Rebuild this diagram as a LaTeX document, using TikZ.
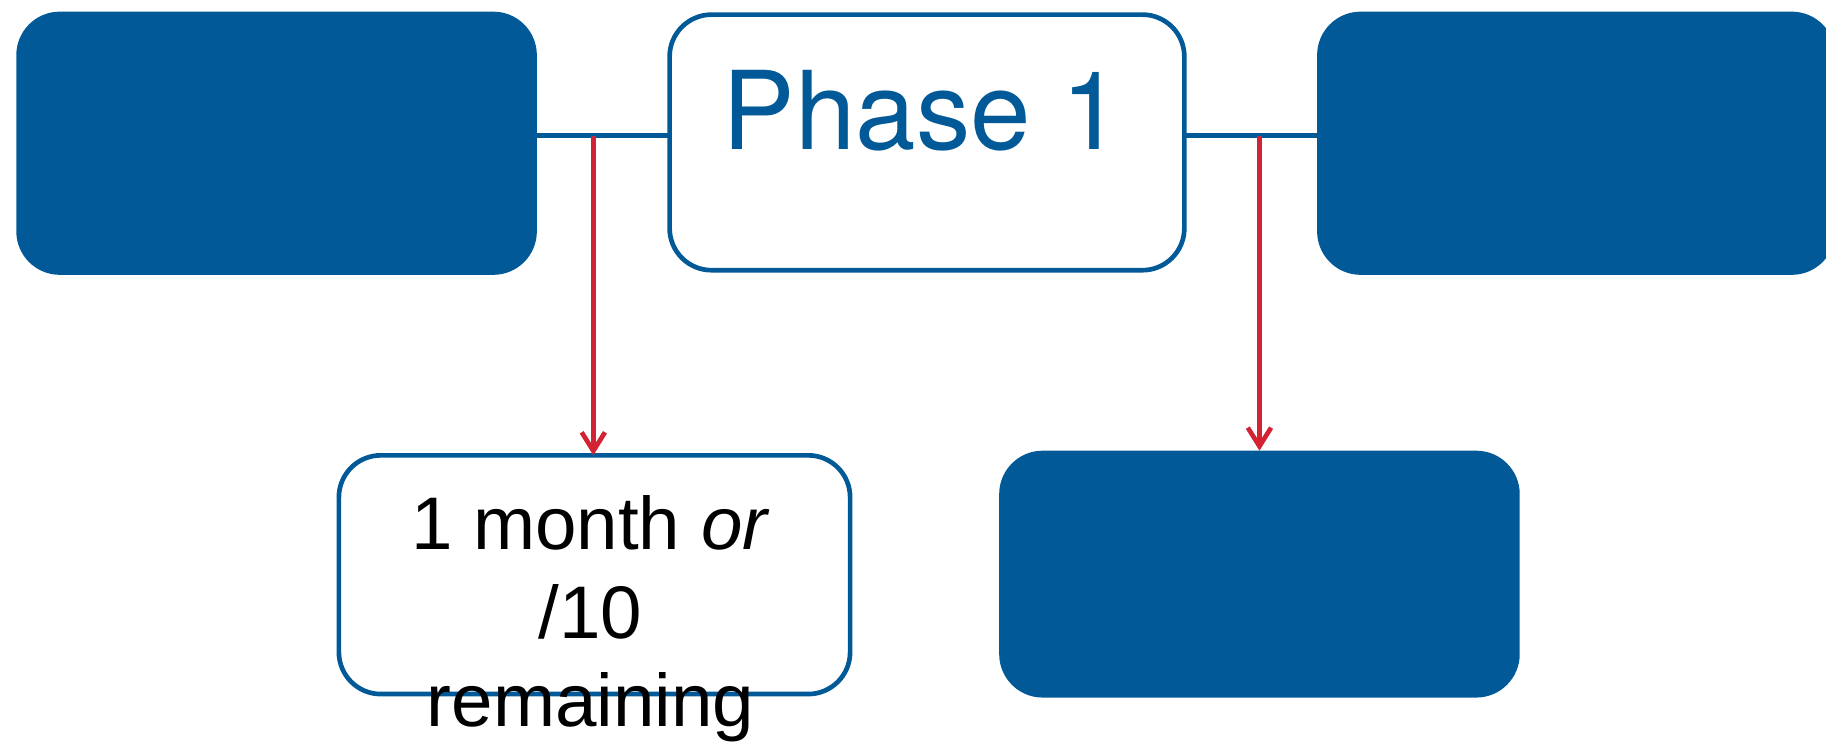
\documentclass[tikz,border=0pt]{standalone}
\usepackage{fontspec}
\setmainfont{Liberation Sans}
\newfontfamily\heros{TeX Gyre Heros}
\usetikzlibrary{arrows.meta}

\definecolor{phaseblue}{RGB}{1,90,151}
\definecolor{flowred}{RGB}{211,34,51}

\tikzset{every picture/.style={line width=3pt}}
\tikzset{
  solidbox/.style={rectangle, rounded corners=28pt, fill=phaseblue, draw=none, inner sep=0pt, outer sep=0pt},
  outlinebox/.style={rectangle, rounded corners=27pt, draw=phaseblue, fill=white, inner sep=0pt, outer sep=0pt},
  link/.style={draw=phaseblue, line width=3pt},
  drop/.style={draw=flowred, line width=3pt, -{Straight Barb[length=12pt,width=15pt]}}
}

\begin{document}
\begin{tikzpicture}[x=0.75pt,y=0.75pt,yscale=-1,xscale=1]
\useasboundingbox (0,0) rectangle (1568,639);
\clip (0,0) rectangle (1568,639);

%Shape: Rounded Rect (filled)
\node [solidbox, minimum width=335.25pt, minimum height=169.5pt] (prevbox) at (237.5,123) {};
%Shape: Rounded Rect (phase)
\node [outlinebox, minimum width=331.5pt, minimum height=164.6pt] (phasebox) at (796,122.3) {};
%Shape: Rounded Rect (filled, cut at the right)
\node [solidbox, minimum width=333.75pt, minimum height=169.5pt] (nextbox) at (1353.5,123) {};
%Shape: Rounded Rect (wait)
\node [outlinebox, minimum width=329.25pt, minimum height=153.75pt] (waitbox) at (510.5,493.5) {};
%Shape: Rounded Rect (filled)
\node [solidbox, minimum width=335.25pt, minimum height=159pt] (endbox) at (1081.5,493) {};

%Junctions on the links
\coordinate (jleft) at (509.5,116.5);
\coordinate (jright) at (1081.5,116.5);

%Straight Lines
\draw [link] (prevbox.east |- jleft) -- (phasebox.west |- jleft) ;
\draw [link] (phasebox.east |- jright) -- (nextbox.west |- jright) ;
%Straight Lines (arrows)
\draw [drop] (jleft) -- (jleft |- waitbox.north) ;
\draw [drop] (jright) -- (jright |- endbox.north) ;

% Text Node
\node [anchor=base, inner sep=0pt, text=phaseblue, font={\heros\fontsize{70}{80}\selectfont}] (phaselabel) at (792,128) {Phase 1};
% Text Node
\node [anchor=base, inner sep=0pt, align=center, font={\fontsize{48}{57}\selectfont}] (waitlabel) at (507,624) {1 month \emph{or}\\/10\\remaining};

\end{tikzpicture}
\end{document}
